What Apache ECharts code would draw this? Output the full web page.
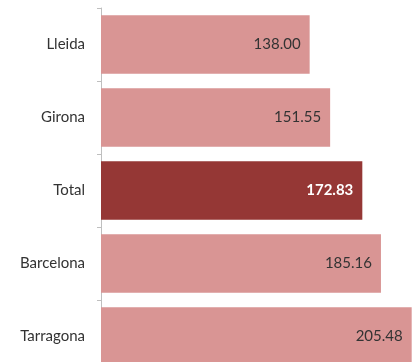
<!DOCTYPE html>
<html style="height: 100%">
<head>
<meta charset="utf-8">
</head>
<body style="height: 100%; margin: 0; background: #fff">
<div id="container" style="width: 419px; height: 362px;"></div>
<script type="text/javascript" src="https://cdn.jsdelivr.net/npm/echarts@6/dist/echarts.min.js"></script>
<script type="text/javascript">
var categories = ['Lleida', 'Girona', 'Total', 'Barcelona', 'Tarragona'];
var values = [138.00, 151.55, 172.83, 185.16, 205.48];
var highlighted = 'Total';

var dom = document.getElementById('container');
var myChart = echarts.init(dom);

var barData = values.map(function (v, i) {
    var isTotal = categories[i] === highlighted;
    return {
        value: v,
        itemStyle: { color: isTotal ? '#953735' : '#d99594' },
        label: {
            color: isTotal ? '#ffffff' : '#333333',
            fontWeight: isTotal ? 'bold' : 'normal'
        }
    };
});

var option = {
    animation: false,
    grid: {
        left: 101,
        top: 8,
        width: 378,
        height: 365,
        containLabel: false,
        outerBoundsMode: 'none'
    },
    xAxis: {
        type: 'value',
        min: 0,
        max: 250,
        show: false
    },
    yAxis: {
        type: 'category',
        data: categories,
        inverse: true,
        axisLine: { lineStyle: { color: '#bfbfbf', width: 1 } },
        axisTick: { show: true, length: 4, lineStyle: { color: '#bfbfbf' } },
        axisLabel: {
            margin: 16,
            fontFamily: 'Lato',
            fontSize: 15,
            color: '#333333'
        }
    },
    series: [{
        type: 'bar',
        data: barData,
        barCategoryGap: '20%',
        label: {
            show: true,
            position: 'insideRight',
            distance: 9,
            fontFamily: 'Lato',
            fontSize: 15,
            formatter: function (p) { return p.value.toFixed(2); }
        }
    }]
};

myChart.setOption(option);
</script>
</body>
</html>
